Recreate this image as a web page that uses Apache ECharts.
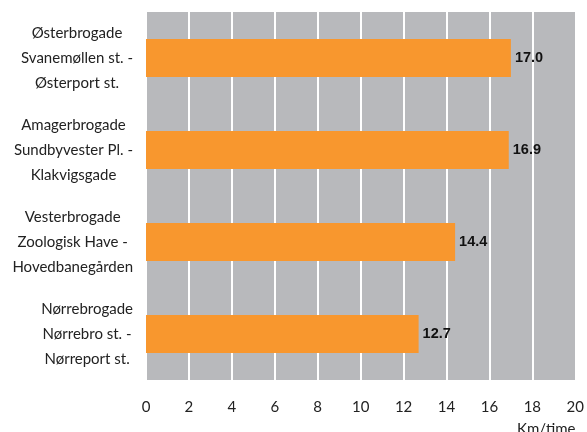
<!DOCTYPE html>
<html>
<head>
<meta charset="utf-8">
<script src="https://cdn.jsdelivr.net/npm/echarts@6/dist/echarts.min.js"></script>
<style>html,body{margin:0;padding:0;background:#fff}#c{width:587px;height:432px}</style>
</head>
<body>
<div id="c"></div>
<script>
var categories = [
  "Østerbrogade\nSvanemøllen st. -\nØsterport st.",
  "Amagerbrogade\nSundbyvester Pl. -\nKlakvigsgade",
  "Vesterbrogade\nZoologisk Have -\nHovedbanegården",
  "Nørrebrogade\nNørrebro st. -\nNørreport st."
];
var values = [17.0, 16.9, 14.4, 12.7];
var xTicks = [0, 2, 4, 6, 8, 10, 12, 14, 16, 18, 20];
var unitLabel = "Km/time";

var chart = echarts.init(document.getElementById('c'));
chart.setOption({
  animation: false,
  grid: {left: 146, right: 9, top: 12, bottom: 52, backgroundColor: '#b8b9bc', show: true, borderWidth: 0},
  title: {
    text: unitLabel, left: 512, top: 417,
    textStyle: {fontFamily: 'Lato', fontSize: 15, fontWeight: 'normal', color: '#222'}
  },
  xAxis: {
    type: 'value', min: xTicks[0], max: xTicks[xTicks.length - 1], interval: 2,
    axisLine: {show: false}, axisTick: {show: false},
    splitLine: {show: true, lineStyle: {color: '#ffffff', width: 2}},
    axisLabel: {fontFamily: 'Lato', fontSize: 15, color: '#222', margin: 20}
  },
  yAxis: {
    type: 'category', data: categories, inverse: true,
    axisLine: {show: false}, axisTick: {show: false},
    axisLabel: {
      margin: 13, align: 'right',
      formatter: function (v) {
        return v.split('\n').map(function (l) { return '{c|' + l + '}'; }).join('\n');
      },
      rich: {c: {align: 'center', fontFamily: 'Lato', fontSize: 15, color: '#222', lineHeight: 25}}
    }
  },
  series: [{
    type: 'bar', data: values, barWidth: 38,
    itemStyle: {color: '#f8972e'},
    label: {
      show: true, position: 'right', distance: 4,
      formatter: function (p) { return p.value.toFixed(1); },
      fontFamily: 'Liberation Sans', fontWeight: 'bold', fontSize: 14.5, color: '#111'
    }
  }]
});
</script>
</body>
</html>
